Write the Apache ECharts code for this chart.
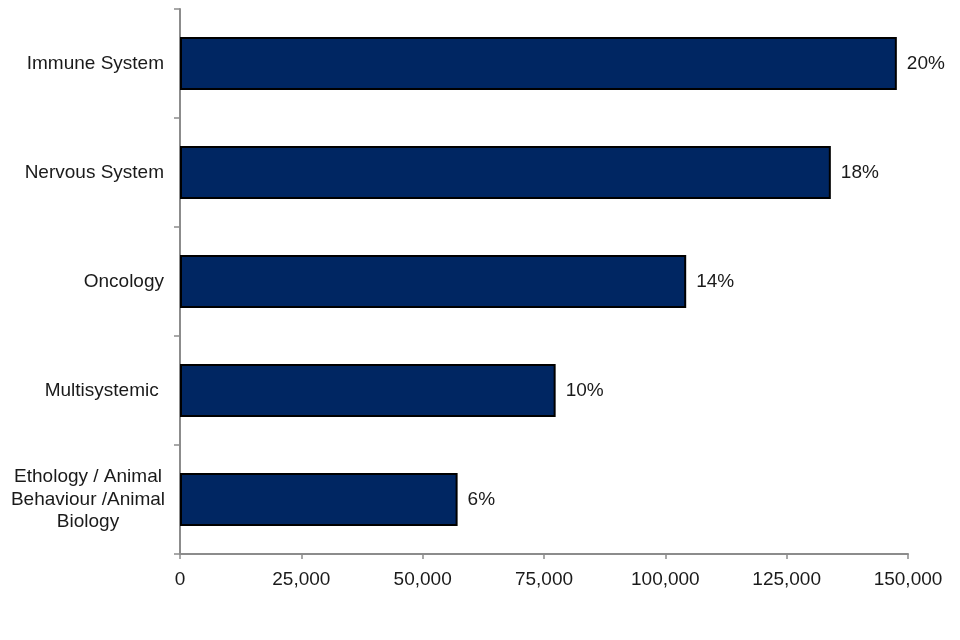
<!DOCTYPE html>
<html>
<head>
<meta charset="utf-8">
<script src="https://cdn.jsdelivr.net/npm/echarts@6/dist/echarts.min.js"></script>
<style>html,body{margin:0;padding:0;background:#fff}#c{width:960px;height:640px}</style>
</head>
<body>
<div id="c"></div>
<script>
var categories = ['Immune System', 'Nervous System', 'Oncology', 'Multisystemic ', 'Ethology / Animal\nBehaviour /Animal\nBiology'];
var values = [147700, 134100, 104300, 77400, 57200];
var percentLabels = ['20%', '18%', '14%', '10%', '6%'];
var xTicks = [0, 25000, 50000, 75000, 100000, 125000, 150000];

var chart = echarts.init(document.getElementById('c'));
var textColor = '#1a1a1a';
var axisColor = '#8c8c8c';
var ff = 'Liberation Sans, Arial, sans-serif';
chart.setOption({
  animation: false,
  grid: { left: 180, right: 52, top: 9, bottom: 86, containLabel: false },
  xAxis: {
    type: 'value',
    min: xTicks[0],
    max: xTicks[xTicks.length - 1],
    interval: xTicks[1] - xTicks[0],
    splitLine: { show: false },
    axisLine: { show: true, lineStyle: { color: axisColor, width: 2 } },
    axisTick: { show: true, length: 5, lineStyle: { color: axisColor, width: 1.5 } },
    axisLabel: {
      margin: 16,
      color: textColor,
      fontFamily: ff,
      fontSize: 19,
      formatter: function (v) { return v.toLocaleString('en-US'); }
    }
  },
  yAxis: {
    type: 'category',
    inverse: true,
    data: categories,
    axisLine: { show: true, lineStyle: { color: axisColor, width: 2 } },
    axisTick: { show: true, length: 6, lineStyle: { color: axisColor, width: 1.5 } },
    axisLabel: {
      margin: 16,
      color: textColor,
      fontFamily: ff,
      fontSize: 19,
      lineHeight: 22.5,
      formatter: function (v) {
        if (v.indexOf('\n') >= 0) {
          return v.split('\n').map(function (s) { return '{c|' + s + '}'; }).join('\n');
        }
        return v;
      },
      rich: {
        c: { width: 152, align: 'center', fontSize: 19, lineHeight: 22.5, color: textColor, fontFamily: ff }
      }
    }
  },
  series: [{
    type: 'bar',
    data: values,
    barWidth: 53,
    itemStyle: { color: '#002662', borderColor: '#000', borderWidth: 2 },
    label: {
      show: true,
      position: 'right',
      distance: 10,
      color: textColor,
      fontFamily: ff,
      fontSize: 19,
      formatter: function (p) { return percentLabels[p.dataIndex]; }
    }
  }]
});
</script>
</body>
</html>
